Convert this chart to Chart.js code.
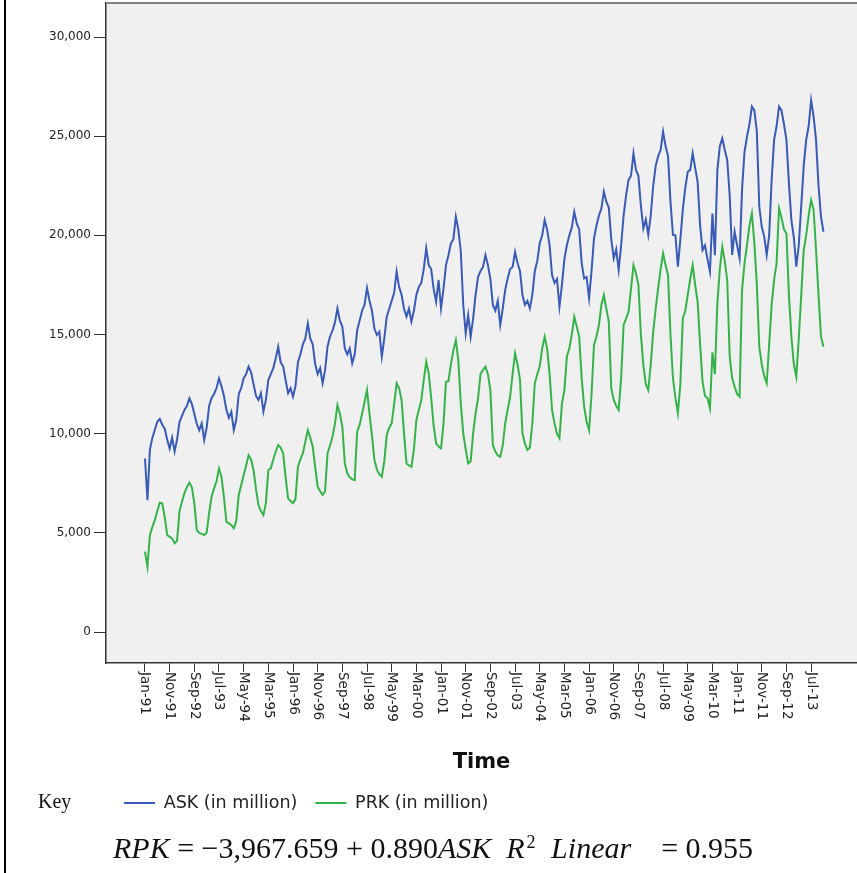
<!DOCTYPE html>
<html>
<head>
<meta charset="utf-8">
<script src="https://cdn.jsdelivr.net/npm/chart.js@4.4.1/dist/chart.umd.min.js"></script>
<style>
  html, body { margin: 0; padding: 0; background: #fff; }
  #wrap { position: relative; width: 857px; height: 873px; overflow: hidden; background: #fff; }
  #leftRule { position: absolute; left: 4px; top: 0; width: 2px; height: 873px; background: #000; }
  #key { position: absolute; left: 38px; top: 790px; font-family: 'Liberation Serif', 'Times New Roman', serif; font-size: 20px; color: #111; }
  #eq { position: absolute; left: 113px; top: 831px; font-family: 'Liberation Serif', 'Times New Roman', serif; font-size: 30px; color: #111; white-space: nowrap; }
  #eq sup { font-size: 60%; font-style: normal; vertical-align: 0.55em; line-height: 0; margin-left: 2px; margin-right: 8px; }
  canvas { position: absolute; left: 0; top: 0; }
</style>
</head>
<body>
<div id="wrap">
  <canvas id="c" width="857" height="873"></canvas>
  <div id="leftRule"></div>
  <div id="key">Key</div>
  <div id="eq"><i>RPK</i> = −3,967.659 + 0.890<i>ASK</i>&nbsp;&nbsp;<i>R</i><sup>2</sup>&nbsp;<i>Linear</i>&nbsp;&nbsp;&nbsp;&nbsp;= 0.955</div>
</div>
<script>
// Monthly series, Jan-91 .. Dec-13 (values in million)
const askValues = [
  8750, 6650, 9200, 9800, 10200, 10600, 10750, 10450, 10250, 9700, 9250, 9800,
  9100, 9700, 10600, 10900, 11200, 11400, 11780, 11500, 11000, 10500, 10180, 10520,
  9680, 10300, 11400, 11800, 12000, 12300, 12790, 12400, 11900, 11200, 10800, 11100,
  10180, 10700, 12000, 12300, 12800, 13000, 13380, 13100, 12500, 11900, 11700, 12040,
  11110, 11700, 12700, 13000, 13300, 13800, 14380, 13600, 13400, 12700, 12040, 12290,
  11860, 12400, 13600, 14000, 14500, 14800, 15560, 14800, 14500, 13500, 13000, 13300,
  12540, 13200, 14400, 14900, 15200, 15600, 16320, 15700, 15400, 14300, 14000, 14300,
  13550, 14000, 15200, 15700, 16200, 16500, 17350, 16700, 16200, 15300, 14975, 15140,
  13880, 14800, 15900, 16300, 16700, 17100, 18170, 17400, 17000, 16300, 15900, 16300,
  15650, 16200, 17000, 17400, 17600, 18300, 19350, 18500, 18300, 17300, 16650, 17750,
  16320, 17300, 18500, 19000, 19600, 19800, 20940, 20300, 19200, 16500, 15060, 15980,
  14890, 15800, 17000, 17900, 18200, 18400, 19010, 18500, 17800, 16490, 16200, 16700,
  15480, 16300, 17240, 17830, 18300, 18400, 19170, 18600, 18200, 17000, 16490, 16700,
  16320, 17000, 18200, 18700, 19600, 20000, 20770, 20300, 19500, 18000, 17600, 17800,
  16400, 17500, 18800, 19500, 20000, 20400, 21190, 20600, 20300, 18600, 17830, 17900,
  16825, 18200, 19850, 20500, 21000, 21360, 22200, 21700, 21400, 19800, 18840, 19300,
  18250, 19500, 21000, 22000, 22800, 23000, 24140, 23300, 23000, 21500, 20350, 20800,
  20020, 21000, 22500, 23500, 24000, 24300, 25230, 24500, 24000, 21700, 20020, 20000,
  18420, 19800, 21300, 22400, 23200, 23300, 24140, 23400, 22700, 20500, 19260, 19500,
  18800, 18170, 21100, 19000, 23290, 24500, 24890, 24300, 23800, 22000, 19010, 20180,
  19500, 18840, 22290, 24200, 24970, 25600, 26490, 26300, 25230, 21440, 20430, 19930,
  19010, 20000, 22790, 24810, 25500, 26490, 26300, 25600, 24810, 22640, 20770, 19900,
  18420, 19500, 21500, 23500, 24810, 25500, 26820, 26000, 24810, 22500, 20940, 20180
];
const prkValues = [
  4050, 3290, 4890, 5300, 5650, 6100, 6520, 6490, 5800, 4890, 4800, 4720,
  4470, 4600, 6100, 6570, 7000, 7300, 7530, 7300, 6500, 5140, 5000, 4950,
  4890, 5000, 6000, 6820, 7240, 7600, 8250, 7830, 6800, 5560, 5480, 5400,
  5230, 5600, 6910, 7400, 7920, 8400, 8920, 8700, 8170, 7200, 6400, 6100,
  5900, 6500, 8170, 8250, 8700, 9100, 9430, 9300, 9010, 7800, 6740, 6600,
  6490, 6700, 8330, 8700, 9010, 9600, 10180, 9800, 9340, 8300, 7330, 7100,
  6910, 7100, 9010, 9400, 9850, 10500, 11450, 11000, 10350, 8500, 8000, 7800,
  7700, 7660, 10100, 10440, 11000, 11600, 12200, 11000, 9900, 8670, 8200, 7950,
  7830, 8600, 9930, 10300, 10520, 11500, 12540, 12300, 11700, 10000, 8500, 8400,
  8330, 9200, 10690, 11200, 11700, 12700, 13630, 13040, 11800, 10400, 9510, 9350,
  9260, 10500, 12620, 12650, 13500, 14200, 14720, 13710, 11500, 10020, 9200, 8500,
  8600, 10000, 11030, 11780, 13000, 13210, 13380, 13000, 12200, 9430, 9100, 8900,
  8840, 9400, 10520, 11200, 11860, 13000, 14050, 13500, 12710, 10020, 9500, 9180,
  9300, 10500, 12540, 13000, 13380, 14300, 14890, 14300, 13000, 11200, 10520, 10000,
  9770, 11500, 12200, 13880, 14300, 15000, 15900, 15400, 14890, 12800, 11360, 10600,
  10180, 12000, 14470, 14900, 15480, 16500, 16990, 16300, 15650, 12290, 11700, 11400,
  11190, 12800, 15480, 15800, 16150, 17300, 18500, 18100, 17500, 15000, 13460, 12500,
  12200, 13500, 15140, 16300, 17330, 18300, 19090, 18500, 18000, 15000, 12790, 11800,
  11030, 12500, 15820, 16200, 17000, 17800, 18500, 17500, 16650, 14500, 12620, 11900,
  11800, 11280, 14100, 13000, 16570, 18300, 19430, 18700, 17750, 13880, 12800, 12370,
  12000, 11860, 17240, 18590, 19500, 20500, 21110, 19600, 17500, 14380, 13500, 12900,
  12540, 14500, 16500, 17750, 18590, 21360, 20900, 20300, 20100, 17000, 14890, 13500,
  12870, 14800, 17000, 19260, 20000, 21000, 21780, 21300, 19260, 17000, 14890, 14380
];
const xTickLabels = ['Jan-91','Nov-91','Sep-92','Jul-93','May-94','Mar-95','Jan-96','Nov-96','Sep-97','Jul-98',
  'May-99','Mar-00','Jan-01','Nov-01','Sep-02','Jul-03','May-04','Mar-05','Jan-06','Nov-06',
  'Sep-07','Jul-08','May-09','Mar-10','Jan-11','Nov-11','Sep-12','Jul-13'];
const xTickStep = 10; // months between labelled ticks
const yTickValues = [0, 5000, 10000, 15000, 20000, 25000, 30000];
const seriesNames = ['ASK (in million)', 'PRK (in million)'];

const fmt = v => String(v).replace(/\B(?=(\d{3})+(?!\d))/g, ',');

const framePlugin = {
  id: 'frame',
  beforeDraw(chart) {
    const {ctx, chartArea: a} = chart;
    ctx.save();
    ctx.fillStyle = '#f0f0f0';
    ctx.fillRect(a.left, a.top, a.right - a.left, a.bottom - a.top);
    ctx.restore();
  },
  afterDraw(chart) {
    const {ctx, chartArea: a} = chart;
    const xs = chart.scales.x;
    ctx.save();
    ctx.strokeStyle = '#808080';
    ctx.lineWidth = 2;
    ctx.beginPath();
    ctx.moveTo(a.left, a.top);
    ctx.lineTo(a.right, a.top);
    ctx.stroke();
    // rotated x tick labels (read top to bottom)
    ctx.fillStyle = '#222';
    ctx.font = '13.5px "DejaVu Sans"';
    ctx.textAlign = 'left';
    ctx.textBaseline = 'middle';
    xTickLabels.forEach((lab, i) => {
      const px = xs.getPixelForValue(i * xTickStep);
      ctx.save();
      ctx.translate(px, xs.top + 9);
      ctx.rotate(Math.PI / 2);
      ctx.fillText(lab, 0, 0);
      ctx.restore();
    });
    ctx.restore();
  }
};

new Chart(document.getElementById('c'), {
  type: 'line',
  data: {
    datasets: [
      { label: seriesNames[0], data: askValues.map((v, i) => ({x: i, y: v})),
        borderColor: '#3a5bb5', backgroundColor: '#3a5bb5', borderWidth: 2, pointRadius: 0, tension: 0 },
      { label: seriesNames[1], data: prkValues.map((v, i) => ({x: i, y: v})),
        borderColor: '#35b34a', backgroundColor: '#35b34a', borderWidth: 2, pointRadius: 0, tension: 0 }
    ]
  },
  options: {
    responsive: false,
    animation: false,
    devicePixelRatio: 1,
    layout: { padding: { top: 3, left: 0, right: 0, bottom: 51.25 } },
    plugins: {
      tooltip: { enabled: false },
      legend: {
        position: 'bottom', align: 'start', fullSize: false,
        labels: { usePointStyle: true, pointStyle: 'line', pointStyleWidth: 31, padding: 18,
          color: '#222', font: { family: 'DejaVu Sans', size: 17.5 } }
      }
    },
    scales: {
      x: {
        type: 'linear', min: -15.8, max: 288.6,
        afterBuildTicks: s => { s.ticks = xTickLabels.map((_, i) => ({ value: i * xTickStep })); },
        afterFit: s => { s.height = 113.25; s.paddingLeft = 0; s.paddingRight = 0; },
        ticks: { display: false },
        grid: { drawOnChartArea: false, drawTicks: true, tickLength: 9, color: '#333' },
        border: { display: true, color: '#333', width: 1.5 },
        title: { display: true, text: 'Time', color: '#111',
          font: { family: 'DejaVu Sans', size: 21, weight: 'bold' }, padding: { top: 0, bottom: 1 } }
      },
      y: {
        min: -1563, max: 31715,
        afterBuildTicks: s => { s.ticks = yTickValues.map(v => ({ value: v })); },
        afterFit: s => { s.width = 106; s.paddingTop = 0; s.paddingBottom = 0; },
        ticks: { color: '#222', padding: 3, font: { family: 'DejaVu Sans', size: 12 }, callback: v => fmt(v) },
        grid: { drawOnChartArea: false, tickLength: 12, color: '#333' },
        border: { display: true, color: '#333', width: 1.5 }
      }
    }
  },
  plugins: [framePlugin]
});
</script>
</body>
</html>
